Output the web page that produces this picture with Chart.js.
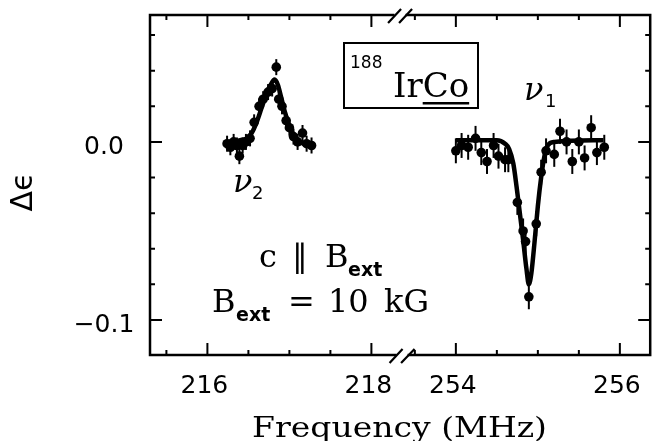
<!DOCTYPE html>
<html><head><meta charset="utf-8">
<script src="https://cdn.jsdelivr.net/npm/chart.js@4"></script>
<style>html,body{margin:0;padding:0;background:#fff;overflow:hidden}</style>
</head><body>
<canvas id="c" width="655" height="441"></canvas>
<script>
// ---- data (frequencies in MHz, asymmetry values) ----
const nu2Freq = [216.24,216.28,216.32,216.36,216.39,216.43,216.47,216.52,216.57,216.63,216.68,216.74,216.79,216.84,216.87,216.91,216.96,217.00,217.05,217.10,217.16,217.21,217.27];
const nu2Val  = [-0.001,-0.003,0.000,-0.002,-0.008,-0.002,0.000,0.002,0.011,0.020,0.024,0.028,0.030,0.042,0.024,0.020,0.012,0.008,0.003,0.000,0.005,-0.001,-0.002];
const nu2Err  = [0.0045,0.0045,0.0045,0.0045,0.0045,0.0045,0.0045,0.0045,0.0045,0.0045,0.0045,0.0045,0.0045,0.0045,0.0045,0.0045,0.0045,0.0045,0.0045,0.0045,0.0045,0.0045,0.0045];

const nu1Freq = [254.00,254.07,254.15,254.24,254.31,254.38,254.46,254.52,254.60,254.64,254.75,254.82,254.85,254.89,254.98,255.04,255.10,255.20,255.27,255.35,255.42,255.50,255.57,255.65,255.72,255.81];
const nu1Val  = [-0.005,-0.002,-0.003,0.002,-0.006,-0.011,-0.002,-0.008,-0.010,-0.010,-0.034,-0.050,-0.056,-0.087,-0.046,-0.017,-0.005,-0.007,0.006,0.000,-0.011,0.000,-0.009,0.008,-0.006,-0.003];
const nu1Err  = [0.007,0.007,0.007,0.007,0.007,0.007,0.007,0.007,0.007,0.007,0.007,0.007,0.007,0.007,0.007,0.007,0.007,0.007,0.007,0.007,0.007,0.007,0.007,0.007,0.007,0.007];

const nu2FitFreq = [216.22,216.30,216.40,216.48,216.54,216.60,216.66,216.72,216.77,216.82,216.86,216.90,216.95,217.00,217.05,217.10,217.18,217.29];
const nu2FitVal  = [0.000,0.000,0.001,0.002,0.005,0.011,0.019,0.027,0.032,0.035,0.032,0.025,0.016,0.009,0.004,0.001,-0.001,-0.001];

const nu1FitFreq = [254.00,254.50,254.60,254.65,254.70,254.74,254.78,254.82,254.86,254.89,254.92,254.96,255.00,255.04,255.08,255.12,255.20,255.80];
const nu1FitVal  = [0.001,0.001,-0.001,-0.004,-0.012,-0.025,-0.040,-0.055,-0.071,-0.080,-0.074,-0.056,-0.036,-0.020,-0.008,-0.002,0.000,0.001];

const xMajorTicks = [216,218,254,256];
const xTickLabels = ['216','218','254','256'];
const xMinorTicks = [215.5,216.5,217,217.5,253.5,254.5,255,255.5];
const yMajorTicks = [0,-0.1];
const yTickLabels = ['0.0','\u22120.1'];
const yMinorTicks = [0.06,0.04,0.02,-0.02,-0.04,-0.06,-0.08];

const LEFT_MIN = 215.3, LEFT_MAX = 218.38, RIGHT_MIN = 253.35, RIGHT_MAX = 256.37;
const Y_MIN = -0.1197, Y_MAX = 0.0713;
const GAP = RIGHT_MIN - LEFT_MAX;
function toAxis(f){ return f > 236 ? f - GAP : f; }
function pts(fs, vs){ return fs.map((f,i)=>({x:toAxis(f), y:vs[i]})); }

const errorBars = {
  id:'errorBars',
  beforeDatasetsDraw(chart){
    const {ctx, scales:{x,y}} = chart;
    ctx.save(); ctx.strokeStyle='#000'; ctx.lineWidth=2;
    const sets = [[nu2Freq,nu2Val,nu2Err],[nu1Freq,nu1Val,nu1Err]];
    for (const [fs,vs,es] of sets){
      fs.forEach((f,i)=>{
        const px = x.getPixelForValue(toAxis(f));
        ctx.beginPath();
        ctx.moveTo(px, y.getPixelForValue(vs[i]-es[i]));
        ctx.lineTo(px, y.getPixelForValue(vs[i]+es[i]));
        ctx.stroke();
      });
    }
    ctx.restore();
  }
};

const frame = {
  id:'frame',
  afterDraw(chart){
    const {ctx, chartArea:a, scales:{x,y}} = chart;
    ctx.save();
    ctx.strokeStyle='#000'; ctx.fillStyle='#000';
    ctx.lineWidth=2.5;
    ctx.strokeRect(a.left, a.top, a.right-a.left, a.bottom-a.top);
    // ticks
    ctx.lineWidth=2;
    const tick=(list,len)=>{
      list.forEach(v=>{
        const px=x.getPixelForValue(toAxis(v));
        ctx.beginPath();
        ctx.moveTo(px,a.bottom); ctx.lineTo(px,a.bottom-len);
        ctx.moveTo(px,a.top); ctx.lineTo(px,a.top+len);
        ctx.stroke();
      });
    };
    tick(xMajorTicks,12); tick(xMinorTicks,5);
    const ytick=(list,len)=>{
      list.forEach(v=>{
        const py=y.getPixelForValue(v);
        ctx.beginPath();
        ctx.moveTo(a.left,py); ctx.lineTo(a.left+len,py);
        ctx.moveTo(a.right,py); ctx.lineTo(a.right-len,py);
        ctx.stroke();
      });
    };
    ytick(yMajorTicks,12); ytick(yMinorTicks,5);
    // tick labels
    ctx.font='25px "DejaVu Sans"';
    ctx.textAlign='center'; ctx.textBaseline='alphabetic';
    xMajorTicks.forEach((v,i)=>{
      ctx.fillText(xTickLabels[i], x.getPixelForValue(toAxis(v))-3, a.bottom+38);
    });
    yMajorTicks.forEach((v,i)=>{
      ctx.fillText(yTickLabels[i], a.left-46, y.getPixelForValue(v)+12);
    });
    // axis break marks
    const bx = x.getPixelForValue(LEFT_MAX);
    ctx.fillStyle='#fff';
    ctx.fillRect(bx-8, a.top-3, 11, 6);
    ctx.fillRect(bx-6, a.bottom-3, 11, 6);
    ctx.fillStyle='#000';
    ctx.lineWidth=2.2;
    ctx.beginPath();
    ctx.moveTo(bx-14.5,a.top+8); ctx.lineTo(bx-1.5,a.top-6);
    ctx.moveTo(bx-3.5,a.top+8); ctx.lineTo(bx+9.5,a.top-6);
    ctx.moveTo(bx-13,a.bottom+8); ctx.lineTo(bx,a.bottom-6);
    ctx.moveTo(bx-1.5,a.bottom+8); ctx.lineTo(bx+12,a.bottom-6);
    ctx.stroke();

    // axis titles
    ctx.textBaseline='alphabetic';
    ctx.font='27px "DejaVu Serif"';
    const t='Frequency (MHz)';
    const w=ctx.measureText(t).width;
    ctx.save();
    ctx.translate(252,437);
    ctx.scale(295/w,1);
    ctx.textAlign='left';
    ctx.fillText(t,0,0);
    ctx.restore();

    ctx.save();
    ctx.translate(24,192); ctx.rotate(-Math.PI/2);
    ctx.textAlign='center'; ctx.textBaseline='middle';
    ctx.font='30px "DejaVu Sans"';
    ctx.fillText('\u0394\u03F5',0,0);
    ctx.restore();

    // labelled box
    ctx.lineWidth=2;
    ctx.strokeRect(344,43,134,65);
    ctx.textAlign='left';
    ctx.font='17px "DejaVu Sans"';
    ctx.fillText('188',350,68);
    ctx.font='34px "DejaVu Serif"';
    const ix=393;
    ctx.fillText('IrCo',ix,97);
    const x0=ix+ctx.measureText('Ir').width;
    const x1=ix+ctx.measureText('IrCo').width;
    ctx.fillRect(x0,102,x1-x0,2.5);

    // nu labels
    ctx.font='italic 32px "DejaVu Serif"';
    ctx.fillText('\u03BD',524,100);
    ctx.fillText('\u03BD',233,192);
    ctx.font='18px "DejaVu Sans"';
    ctx.fillText('1',545,107);
    ctx.fillText('2',252,199);

    // field text
    ctx.font='32px "DejaVu Serif"';
    ctx.fillText('c',259,267);
    ctx.font='32px "DejaVu Sans"';
    ctx.fillText('\u2225',292,267);
    ctx.font='32px "DejaVu Serif"';
    ctx.fillText('B',325,267);
    ctx.fillText('B',212,312);
    ctx.fillText('=',288,312);
    ctx.fillText('10',328,312);
    ctx.fillText('kG',384,312);
    ctx.font='bold 19px "DejaVu Sans"';
    ctx.fillText('ext',348,276);
    ctx.fillText('ext',236,321);
    ctx.restore();
  }
};

new Chart(document.getElementById('c'), {
  type:'scatter',
  data:{ datasets:[
    {data:pts(nu2FitFreq,nu2FitVal), showLine:true, pointRadius:0, borderColor:'#000', borderWidth:4.5, cubicInterpolationMode:'monotone'},
    {data:pts(nu1FitFreq,nu1FitVal), showLine:true, pointRadius:0, borderColor:'#000', borderWidth:4.5, cubicInterpolationMode:'monotone'},
    {data:pts(nu2Freq,nu2Val), pointRadius:4.8, backgroundColor:'#000', borderWidth:0},
    {data:pts(nu1Freq,nu1Val), pointRadius:4.8, backgroundColor:'#000', borderWidth:0}
  ]},
  options:{
    responsive:false, animation:false, devicePixelRatio:1,
    layout:{padding:{top:15,right:1,left:0,bottom:0}},
    plugins:{legend:{display:false}, tooltip:{enabled:false}},
    scales:{
      x:{type:'linear', min:LEFT_MIN, max:toAxis(RIGHT_MAX),
        grid:{display:false, drawTicks:false}, border:{display:false},
        afterBuildTicks:s=>{ s.ticks = xMajorTicks.map(v=>({value:toAxis(v)})); },
        afterFit:s=>{ s.height=86; },
        ticks:{display:false}
      },
      y:{type:'linear', min:Y_MIN, max:Y_MAX,
        grid:{display:false, drawTicks:false}, border:{display:false},
        afterBuildTicks:s=>{ s.ticks = yMajorTicks.map(v=>({value:v})); },
        afterFit:s=>{ s.width=150; },
        ticks:{display:false}
      }
    }
  },
  plugins:[errorBars, frame]
});
</script>
</body></html>
